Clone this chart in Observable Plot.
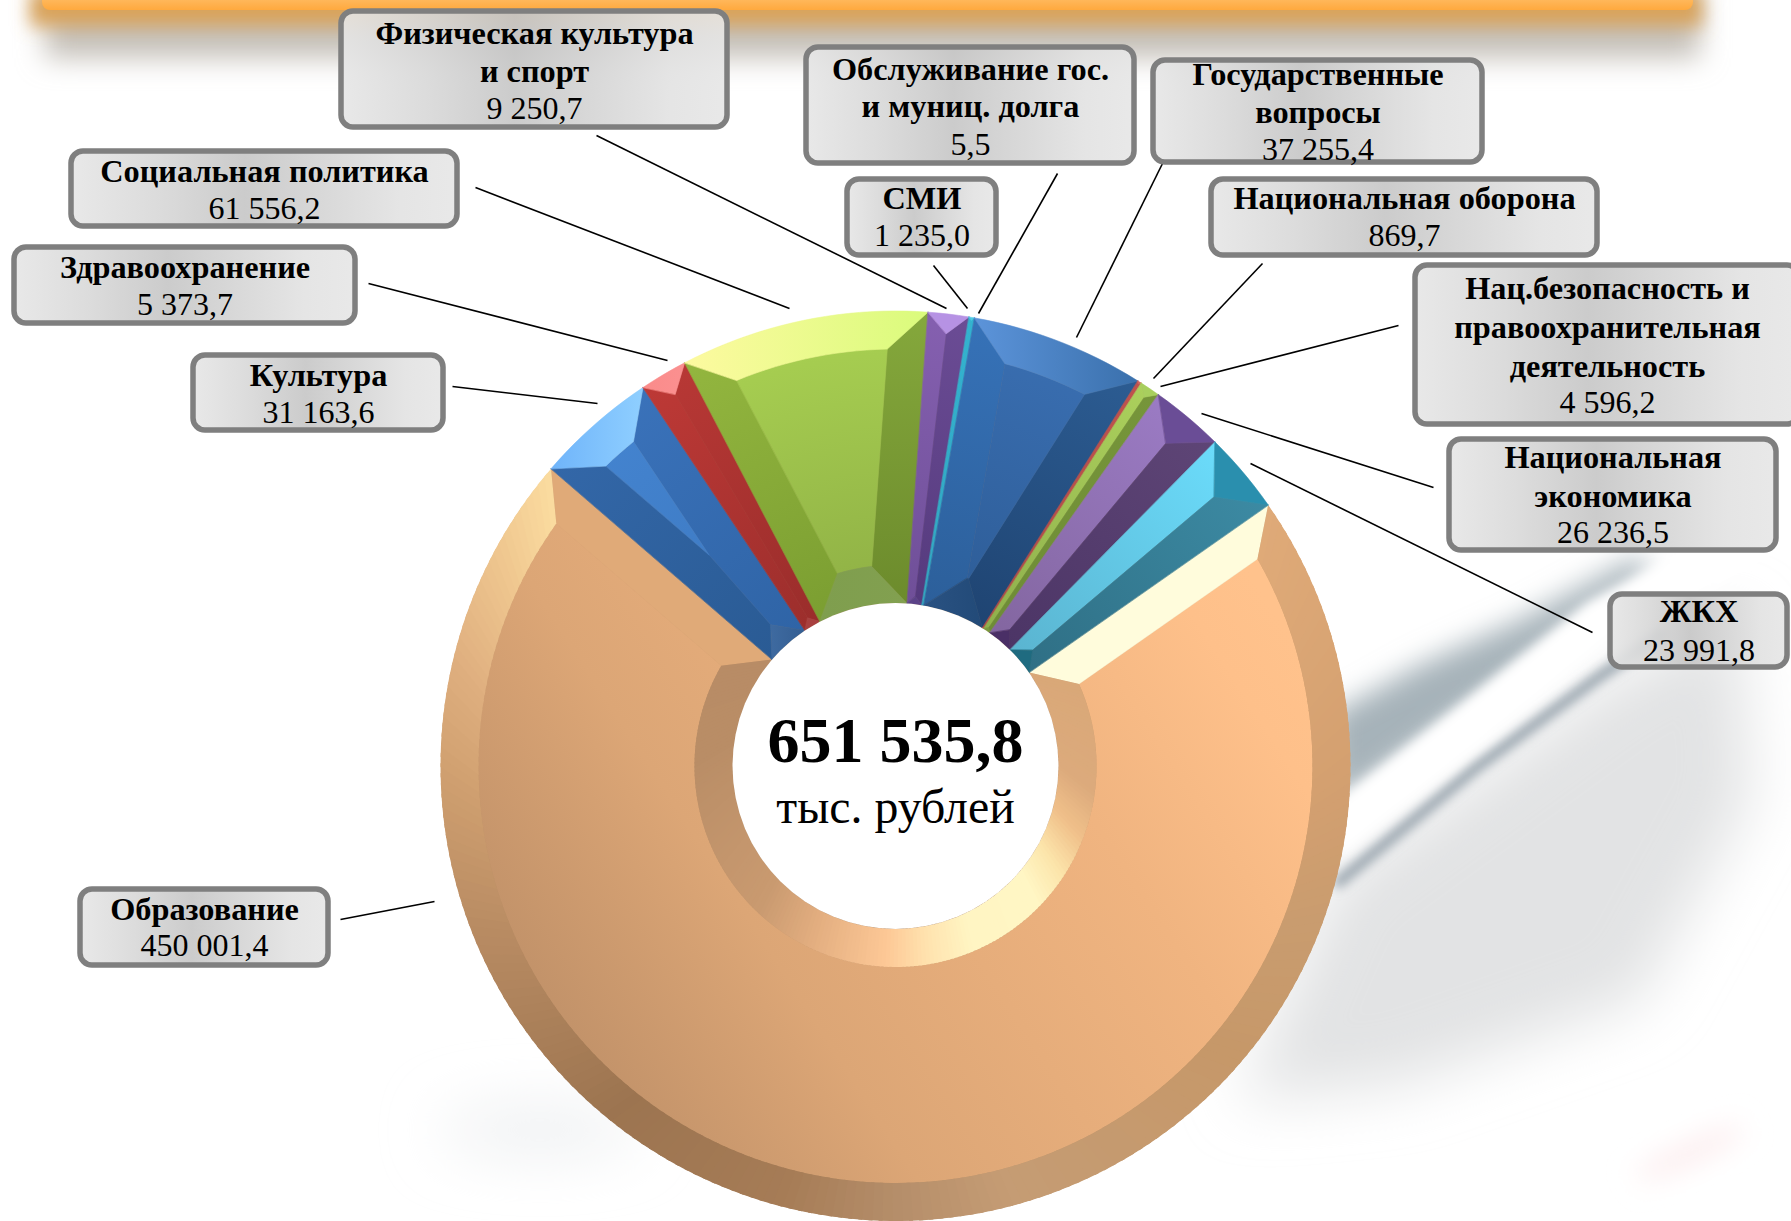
<!DOCTYPE html>
<html lang="ru">
<head>
<meta charset="utf-8">
<script src="https://cdn.jsdelivr.net/npm/d3@7"></script>
<script src="https://cdn.jsdelivr.net/npm/@observablehq/plot@0.6"></script>
<style>
html,body{margin:0;padding:0;background:#fff;overflow:hidden}
#stage{position:relative;width:1791px;height:1221px;overflow:hidden}
#stage>svg{position:absolute;left:0;top:0}
g[aria-label="donut base"]{filter:drop-shadow(0 2px 3px rgba(40,40,40,.65))}
g[aria-label="hole"]{filter:drop-shadow(0 0 2px rgba(70,70,70,.55))}
</style>
</head>
<body>
<div id="stage">
<svg width="1791" height="1221" xmlns="http://www.w3.org/2000/svg">
  <defs>
    <filter id="b5" x="-30%" y="-30%" width="160%" height="160%"><feGaussianBlur stdDeviation="6"/></filter>
    <filter id="b8" x="-30%" y="-200%" width="160%" height="500%"><feGaussianBlur stdDeviation="9"/></filter>
    <filter id="b14" x="-30%" y="-200%" width="160%" height="500%"><feGaussianBlur stdDeviation="14"/></filter>
    <filter id="b30" x="-50%" y="-50%" width="200%" height="200%"><feGaussianBlur stdDeviation="30"/></filter>
    <filter id="b40" x="-50%" y="-300%" width="200%" height="700%"><feGaussianBlur stdDeviation="30"/></filter>
    <linearGradient id="barFill" x1="0" y1="0" x2="0" y2="1"><stop offset="0" stop-color="#ffb75a"/><stop offset="1" stop-color="#ffa93e"/></linearGradient>
  </defs>
  <polygon points="1335,880 1610,680 1740,610 1750,800 1640,1000 1400,1085 1240,1100" fill="#e2e3e4" filter="url(#b30)"/>
  <polygon points="1330,810 1590,625 1650,580 1640,555 1520,620 1420,665 1330,715" fill="#a6b2b9" filter="url(#b14)"/>
  <path d="M1335,885 L1477,767 L1600,676 L1665,632" fill="none" stroke="#8c9aa4" stroke-width="10" filter="url(#b5)"/>
  <path d="M1330,836 L1477,720 L1600,621 L1770,530" fill="none" stroke="#ffffff" stroke-width="46" filter="url(#b5)"/>
  <ellipse cx="540" cy="1130" rx="100" ry="22" fill="#eceef0" filter="url(#b40)"/>
  <ellipse cx="1690" cy="1153" rx="60" ry="8" fill="#fbe6e8" filter="url(#b14)" transform="rotate(-25 1690 1153)"/>
  <rect x="45" y="-10" width="1655" height="68" fill="#c4bfb8" filter="url(#b14)"/>
  <rect x="30" y="-10" width="1672" height="36" fill="#d9a35a" filter="url(#b8)"/>
  <path d="M42,0H1693V2a8,8 0 0 1 -8,8H50a8,8 0 0 1 -8,-8Z" fill="url(#barFill)"/>
</svg>
</div>
<script>
// ---- values printed on the chart ----
const labelNames = [
  ["Образование"], ["Культура"], ["Здравоохранение"], ["Социальная политика"],
  ["Физическая культура", "и спорт"], ["СМИ"], ["Обслуживание гос.", "и муниц. долга"],
  ["Государственные", "вопросы"], ["Национальная оборона"],
  ["Нац.безопасность и", "правоохранительная", "деятельность"],
  ["Национальная", "экономика"], ["ЖКХ"]
];
const labelValues = ["450 001,4","31 163,6","5 373,7","61 556,2","9 250,7","1 235,0","5,5","37 255,4","869,7","4 596,2","26 236,5","23 991,8"];
const totalValue = "651 535,8";
const totalUnit = "тыс. рублей";
// Sweep of each drawn slice in degrees (the drawn slices differ a little from the printed shares).
const sliceDegrees = [255.8, 15.5, 6.1, 31.7, 5.2, 0.7, 0, 22.2, 0.5, 2.6, 9.3, 10.4];
const firstSliceStart = 55;

// ---- layout, separate from the values ----
const W = 1791, H = 1221, cx = 895, cy = 765.5, Ro = 455, Ri = 163, bevel = 38;
const boxes = [[78,887,330,967],[191,353,445,432],[12,245,357,325],[69,149,459,228],[339,9,729,129],[845,177,998,257],
  [804,45,1136,165],[1151,58,1484,164],[1209,177,1599,257],[1413,263,1801,426],[1447,437,1778,552],[1608,592,1789,669]];
const lineYs = [[909,945],[375,412],[267,304],[171,208],[33,71,108],[198,235],[69,106,144],[74,112,149],[198,235],[288,327,366,402],[457,496,532],[611,650]];
const leaders = [[340,919,434,901],[452,386,597,403],[368,283,667,360],[475,187,789,308],[596,135,946,308],[933,265,967,308],
  [1057,173,978,313],[1162,163,1076,337],[1262,263,1153,378],[1398,325,1160,386],[1433,487,1201,413],[1592,632,1250,463]];

// ---- facet colours per slice: outer(a,b), left(out,in), right(out,in), face(out,in), inner(a,b) ----
const palette = [
  null,
  {o:["#6fb4fa","#8fcfff"],l:["#3367a8","#2a5b94"],r:["#3a72ba","#2f64a6"],f:["#4484d0","#3c78c0"],i:["#3e6aa0","#345e92"]},
  {o:["#fa8b8a","#fb9090"],l:["#bd3936","#9c2e2c"],r:["#b83835","#9a2d2b"],f:["#bd3936","#9c2e2c"],i:["#a8403f","#a8403f"]},
  {o:["#fdfaa0","#dafb7c"],l:["#93b63f","#7b9e31"],r:["#85a83c","#6c8b2c"],f:["#a9d152","#8fb045"],i:["#7f9e4e","#82a050"]},
  {o:["#b692e4","#b692e4"],l:["#8560b0","#6f4f98"],r:["#6b4c95","#553a7d"],f:["#8560b0","#6f4f98"],i:["#5b4288","#5b4288"]},
  {o:["#4ecbe6","#4ecbe6"],l:["#32b3d0","#2ea8c4"],r:["#32b3d0","#2ea8c4"],f:["#32b3d0","#2ea8c4"],i:["#2a9ab5","#2a9ab5"]},
  null,
  {o:["#5c94da","#3a70ac"],l:["#3672b8","#2c5f9a"],r:["#2c5c92","#1f4472"],f:["#3a6fb2","#2d5c96"],i:["#2a5282","#224a78"]},
  {o:["#d66563","#d66563"],l:["#c0504d","#b04845"],r:["#c0504d","#b04845"],f:["#c0504d","#b04845"],i:["#c0504d","#c0504d"]},
  {o:["#a8cf5e","#a8cf5e"],l:["#abd05c","#8fb04c"],r:["#76953a","#6e8c36"],f:["#abd05c","#8fb04c"],i:["#7a9a3e","#7a9a3e"]},
  {o:["#6a4d96","#6a4d96"],l:["#9b7bc4","#8366a0"],r:["#5e4576","#4c3566"],f:["#9b7bc4","#8366a0"],i:["#4a2f66","#4a2f66"]},
  {o:["#2a8fae","#2a8fae"],l:["#6bdcfb","#5ab4d0"],r:["#3c8aa3","#2f6f85"],f:["#6bdcfb","#5ab4d0"],i:["#1f6b80","#1f6b80"]}
];
const eduOuterRamp = [[55,"#dfaa78"],[90,"#d4a070"],[110,"#c99c6f"],[130,"#c69869"],[165,"#c59c74"],[180,"#b58e6a"],[195,"#a67c56"],[220,"#9c7450"],[250,"#b98c63"],[270,"#d0a070"],[285,"#e0b080"],[300,"#f0c890"],[311,"#fbdca0"]];
const eduInnerRamp = [[55,"#d9a878"],[90,"#dcaa7c"],[105,"#f0c08a"],[118,"#fce4aa"],[130,"#fff6c4"],[155,"#fff5c3"],[170,"#ffe2ae"],[183,"#fdc896"],[207,"#e3ae80"],[227,"#c99a70"],[280,"#b98d66"],[311,"#b88c66"]];

// ---- geometry helpers ----
const rad = d => d * Math.PI / 180;
const P = (r, deg) => ({x: cx + r * Math.sin(rad(deg)), y: cy - r * Math.cos(rad(deg))});
const arc = (r, a, b) => { const n = Math.max(2, Math.ceil(Math.abs(b - a) / 1.5)); return d3.range(n + 1).map(k => P(r, a + (b - a) * k / n)); };

let cursor = firstSliceStart;
const slices = sliceDegrees.map(s => { const a0 = cursor; cursor += s; return {a0, a1: cursor}; });
const Ca = Math.asin(bevel / (Ro - bevel)) * 180 / Math.PI;
const Ci = Math.asin(bevel / (Ri + bevel)) * 180 / Math.PI;

function facets({a0, a1}) {
  const m = (a0 + a1) / 2, h = (a1 - a0) / 2, s = h < 90 ? Math.sin(rad(h)) : 1;
  const rIn = Ri / (1 - s);
  if (s >= bevel / (Ri + bevel)) return {
    o: [...arc(Ro, a0, a1), ...arc(Ro - bevel, a1 - Ca, a0 + Ca)],
    i: [...arc(Ri, a0, a1), ...arc(Ri + bevel, a1 - Ci, a0 + Ci)],
    l: [P(Ro, a0), P(Ro - bevel, a0 + Ca), P(Ri + bevel, a0 + Ci), P(Ri, a0)],
    r: [P(Ro, a1), P(Ro - bevel, a1 - Ca), P(Ri + bevel, a1 - Ci), P(Ri, a1)],
    f: [...arc(Ro - bevel, a0 + Ca, a1 - Ca), ...arc(Ri + bevel, a1 - Ci, a0 + Ci)]
  };
  if (s >= bevel / (Ro - bevel)) { const rA = bevel / s; return {
    o: [...arc(Ro, a0, a1), ...arc(Ro - bevel, a1 - Ca, a0 + Ca)],
    i: [...arc(Ri, a0, a1), P(rIn, m)],
    l: [P(Ro, a0), P(Ro - bevel, a0 + Ca), P(rA, m), P(rIn, m), P(Ri, a0)],
    r: [P(Ro, a1), P(Ro - bevel, a1 - Ca), P(rA, m), P(rIn, m), P(Ri, a1)],
    f: [...arc(Ro - bevel, a0 + Ca, a1 - Ca), P(rA, m)]
  }; }
  const rOut = Ro / (1 + s);
  return {
    o: [...arc(Ro, a0, a1), P(rOut, m)],
    i: [...arc(Ri, a0, a1), P(rIn, m)],
    l: [P(Ro, a0), P(rOut, m), P(rIn, m), P(Ri, a0)],
    r: [P(Ro, a1), P(rOut, m), P(rIn, m), P(Ri, a1)]
  };
}

// ---- gradients ----
const defs = d3.create("svg:defs");
function radialGrad(id, outer, inner) {
  const g = defs.append("radialGradient").attr("id", id).attr("gradientUnits", "userSpaceOnUse")
    .attr("cx", cx).attr("cy", cy).attr("r", Ro);
  g.append("stop").attr("offset", Ri / Ro).attr("stop-color", inner);
  g.append("stop").attr("offset", 1).attr("stop-color", outer);
  return `url(#${id})`;
}
function horizGrad(id, a, b) {
  const g = defs.append("linearGradient").attr("id", id).attr("x1", 0).attr("y1", 0).attr("x2", 1).attr("y2", 0);
  g.append("stop").attr("offset", 0).attr("stop-color", a);
  g.append("stop").attr("offset", 1).attr("stop-color", b);
  return `url(#${id})`;
}
const eduFace = defs.append("linearGradient").attr("id", "eduFace").attr("gradientUnits", "userSpaceOnUse")
  .attr("x1", 540).attr("y1", 1100).attr("x2", 1280).attr("y2", 620);
[[0,"#bb8d66"],[.31,"#dca676"],[.7,"#f0b480"],[.92,"#fec08a"],[1,"#ffc28c"]].forEach(([o,c]) => eduFace.append("stop").attr("offset", o).attr("stop-color", c));
const boxFill = defs.append("linearGradient").attr("id", "boxFill").attr("x1", 0).attr("y1", 0).attr("x2", 1).attr("y2", 0);
[[0,"#e6e6e6"],[.22,"#d8d8d8"],[.45,"#c6c6c6"],[.62,"#d2d2d2"],[.85,"#e2e2e2"],[1,"#e6e6e6"]].forEach(([o,c]) => boxFill.append("stop").attr("offset", o).attr("stop-color", c));

// ---- slice marks ----
const poly = (pts, fill, sw = 0.6) => Plot.line(pts, {x: "x", y: "y", fill, stroke: fill, strokeWidth: sw, curve: "linear-closed"});
const sliceMarks = [];
slices.forEach((sl, i) => {
  if (sl.a1 - sl.a0 <= 0) return;
  const F = facets(sl), p = palette[i];
  if (i === 0) {
    const outerC = d3.scaleLinear(eduOuterRamp.map(d => d[0]), eduOuterRamp.map(d => d[1]));
    const innerC = d3.scaleLinear(eduInnerRamp.map(d => d[0]), eduInnerRamp.map(d => d[1]));
    sliceMarks.push(poly(F.f, "url(#eduFace)"));
    sliceMarks.push(poly(F.l, "#fffcdc"));
    sliceMarks.push(poly(F.r, "#e0aa78"));
    const n = 200, sweep = sl.a1 - sl.a0;
    d3.range(n).forEach(k => {
      const t0 = k / n, t1 = (k + 1.4) / n, mid = sl.a0 + sweep * (k + 0.7) / n;
      const ring = (r, off) => { const at = t => sl.a0 + off + Math.min(t, 1) * (sweep - 2 * off); return [P(r, at(t0)), P(r, at(t1))]; };
      const ob = ring(Ro, 0), oa = ring(Ro - bevel, Ca);
      sliceMarks.push(Plot.line([ob[0], ob[1], oa[1], oa[0]], {x: "x", y: "y", fill: outerC(mid), stroke: "none", curve: "linear-closed"}));
      const ib = ring(Ri, 0), ia = ring(Ri + bevel, Ci);
      sliceMarks.push(Plot.line([ib[0], ib[1], ia[1], ia[0]], {x: "x", y: "y", fill: innerC(mid), stroke: "none", curve: "linear-closed"}));
    });
    return;
  }
  sliceMarks.push(poly(F.l, radialGrad(`l${i}`, p.l[0], p.l[1])));
  sliceMarks.push(poly(F.r, radialGrad(`r${i}`, p.r[0], p.r[1])));
  if (F.f) sliceMarks.push(poly(F.f, radialGrad(`f${i}`, p.f[0], p.f[1])));
  sliceMarks.push(poly(F.o, horizGrad(`o${i}`, p.o[0], p.o[1])));
  sliceMarks.push(poly(F.i, horizGrad(`i${i}`, p.i[0], p.i[1])));
});

// ---- label tables built from the arrays ----
const boxStrokeInset = 2;
const boxRows = boxes.map(([x1, y1, x2, y2]) => ({x1: x1 + boxStrokeInset, y1: y1 + boxStrokeInset, x2: x2 - boxStrokeInset, y2: y2 - boxStrokeInset}));
const leaderRows = leaders.map(([x1, y1, x2, y2]) => ({x1, y1, x2, y2}));
const boldRows = labelNames.flatMap((ls, i) => ls.map((text, k) => ({text, x: (boxes[i][0] + boxes[i][2]) / 2, y: lineYs[i][k]})));
const valueRows = labelValues.map((text, i) => ({text, x: (boxes[i][0] + boxes[i][2]) / 2, y: lineYs[i][labelNames[i].length]}));
const serif = "'Liberation Serif','Times New Roman',serif";

const plot = Plot.plot({
  width: W, height: H, margin: 0,
  x: {domain: [0, W], range: [0, W], axis: null},
  y: {domain: [0, H], range: [0, H], axis: null},
  style: {background: "transparent", overflow: "hidden"},
  marks: [
    () => defs.node(),
    Plot.dot([{x: cx, y: cy}], {x: "x", y: "y", r: Ro - 0.5, fill: "#b08a66", stroke: "none", ariaLabel: "donut base"}),
    ...sliceMarks,
    Plot.dot([{x: cx, y: cy}], {x: "x", y: "y", r: Ri, fill: "#ffffff", stroke: "none", ariaLabel: "hole"}),
    Plot.link(leaderRows, {x1: "x1", y1: "y1", x2: "x2", y2: "y2", stroke: "#000", strokeWidth: 1.6}),
    Plot.rect(boxRows, {x1: "x1", y1: "y1", x2: "x2", y2: "y2", rx: 12, fill: "url(#boxFill)", stroke: "#7f7f7f", strokeWidth: 5.5, fillOpacity: 0.9}),
    Plot.text(boldRows, {x: "x", y: "y", text: "text", fontFamily: serif, fontWeight: "bold", fontSize: 32.3, fill: "#000", lineAnchor: "middle"}),
    Plot.text(valueRows, {x: "x", y: "y", text: "text", fontFamily: serif, fontSize: 32, fill: "#000", lineAnchor: "middle"}),
    Plot.text([{text: totalValue, x: cx, y: 741}], {x: "x", y: "y", text: "text", fontFamily: serif, fontWeight: "bold", fontSize: 64, fill: "#000", lineAnchor: "middle"}),
    Plot.text([{text: totalUnit, x: cx, y: 807}], {x: "x", y: "y", text: "text", fontFamily: serif, fontSize: 47.8, fill: "#000", lineAnchor: "middle"})
  ]
});
document.getElementById("stage").appendChild(plot);
</script>
</body>
</html>
